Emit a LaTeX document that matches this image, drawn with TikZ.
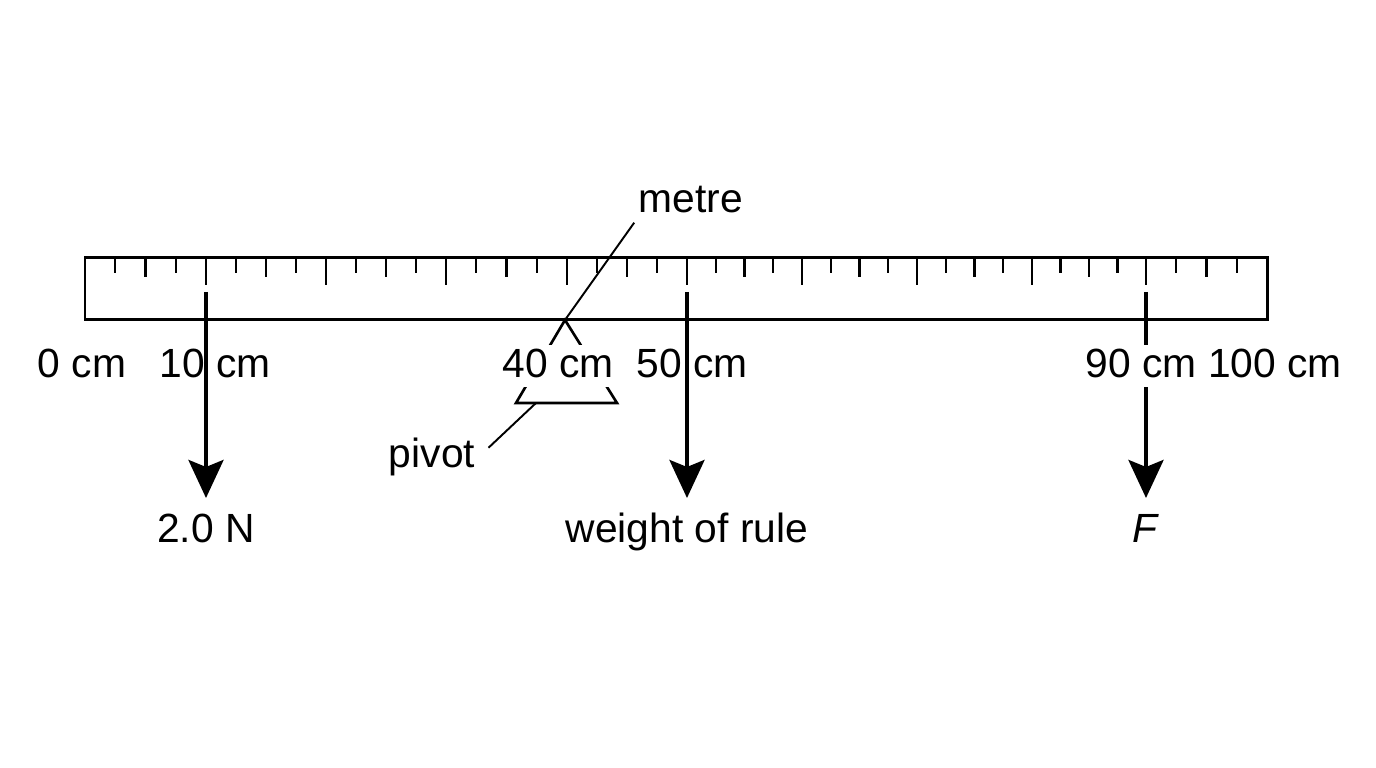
\documentclass[tikz,border=0pt]{standalone}
\usepackage{fontspec}
\setmainfont{Liberation Sans}
\usetikzlibrary{arrows.meta, positioning}

\begin{document}
\begin{tikzpicture}[
    lab/.style={font=\fontsize{11.6pt}{14pt}\selectfont, inner sep=0.04cm, text height=0.29cm, text depth=0.05cm},
    gaplab/.style={lab, fill=white},
    ruler/.style={line width=0.85pt},
    tick/.style={line width=0.6pt},
    pivotline/.style={line width=0.75pt},
    leader/.style={line width=0.55pt},
    force/.style={line width=1.15pt, -{Stealth[length=0.38cm, width=0.35cm, inset=0.07cm]}}
]

    \fill[white] (0,0) rectangle (13.76,7.68);
    \useasboundingbox (0,0) rectangle (13.76,7.68);

    % Draw the rule and its scale
    \draw[ruler] (0.85,4.48) rectangle (12.67,5.10);
    \foreach \a/\b [count=\i] in {0.85/2.06, 2.06/3.26, 3.26/4.46, 4.46/5.67, 5.67/6.87, 6.87/8.02, 8.02/9.17, 9.17/10.32, 10.32/11.46, 11.46/12.67} {
        \ifnum\i>1 \draw[tick] (\a,5.10) -- (\a,4.83); \fi
        \draw[tick] ({\a+(\b-\a)/4},5.10) -- ++(0,-0.15);
        \draw[tick] ({\a+(\b-\a)/2},5.10) -- ++(0,-0.19);
        \draw[tick] ({\a+3*(\b-\a)/4},5.10) -- ++(0,-0.15);
    }

    % Draw the pivot
    \coordinate (apex) at (5.65,4.48);
    \coordinate (pl) at (5.16,3.65);
    \coordinate (pr) at (6.17,3.65);
    \coordinate (pivbase) at (5.36,3.65);
    \draw[pivotline] (apex) -- (pl) -- (pr) -- cycle;

    % Draw the forces
    \coordinate (f10) at (2.06,4.76);
    \coordinate (t10) at (2.06,2.70);
    \coordinate (f50) at (6.87,4.76);
    \coordinate (t50) at (6.87,2.70);
    \coordinate (f90) at (11.46,4.76);
    \coordinate (t90) at (11.46,2.70);
    \draw[force] (f10) -- (t10);
    \draw[force] (f50) -- (t50);
    \draw[force] (f90) -- (t90);

    % Label the scale
    \node[lab, anchor=base] (l0) at (0.82,3.90) {0 cm};
    \node[lab, anchor=base] (l10) at (2.15,3.90) {10 cm};
    \node[gaplab, anchor=base] (l40) at (5.58,3.90) {40 cm};
    \node[lab, anchor=base] (l50) at (6.92,3.90) {50 cm};
    \node[gaplab, anchor=base] (l90) at (11.41,3.90) {90 cm};
    \node[lab, anchor=base] (l100) at (12.75,3.90) {100 cm};

    % Label the rule and the pivot
    \node[lab, anchor=base] (metre) at (6.91,5.55) {metre};
    \node[lab, anchor=base] (pivot) at (4.32,3.00) {pivot};
    \draw[leader] (apex) -- (metre.south west);
    \draw[leader, shorten >=0.12cm] (pivbase) -- (pivot.east);

    % Label the forces
    \node[lab, below=0.11cm of t10] (w10) {2.0 N};
    \node[lab, below=0.11cm of t50] (w50) {weight of rule};
    \node[lab, below=0.11cm of t90] (w90) {\textit{F}};
\end{tikzpicture}
\end{document}
